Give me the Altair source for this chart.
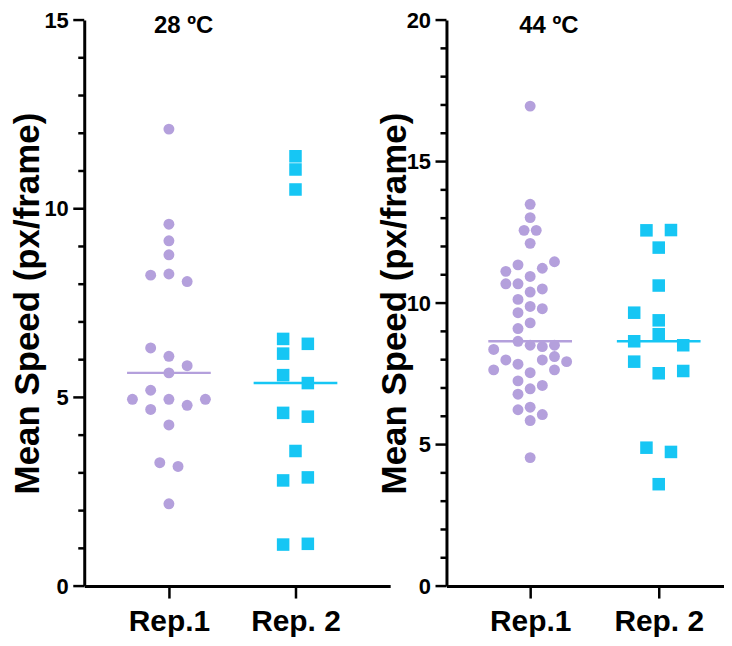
import altair as alt
import pandas as pd

# ---------------- data ----------------
categories = ["Rep.1", "Rep. 2"]
panel_titles = ["28 ºC", "44 ºC"]
y_title = "Mean Speed (px/frame)"

# 28 ºC
t28_rep1 = [12.11, 9.59, 9.15, 8.78, 8.24, 8.27, 8.07, 6.31, 6.09, 5.84, 5.65,
            5.19, 4.95, 4.95, 4.95, 4.68, 4.79, 4.27, 3.27, 3.17, 2.18]
t28_rep1_lane = [0, 0, 0, 0, -2, 0, 2, -2, 0, 2, 0,
                 -2, -4, 0, 4, -2, 2, 0, -1, 1, 0]
t28_rep2 = [11.39, 11.04, 10.51, 6.55, 6.42, 6.16, 5.59, 5.38, 4.59, 4.49,
            3.58, 2.80, 2.88, 1.10, 1.12]
t28_rep2_lane = [0, 0, 0, -1, 1, -1, -1, 1, -1, 1, 0, -1, 1, -1, 1]

# 44 ºC
t44_rep1 = [16.96, 13.49, 13.02, 12.57, 12.57, 12.11, 11.46, 11.35, 11.12, 11.23,
            10.94, 10.68, 10.68, 10.50, 10.39, 10.13, 9.88, 9.80, 9.66, 9.30,
            9.10, 8.65, 8.51, 8.46, 8.51, 8.36, 8.11, 7.99, 7.99, 7.93,
            7.84, 7.64, 7.64, 7.54, 7.25, 7.09, 6.97, 6.78, 6.23, 6.32,
            6.06, 5.85, 4.54]
t44_rep1_lane = [0, 0, 0, -0.5, 0.5, 0, 2, -1, -2, 1,
                 0, -2, -1, 1, 0, -1, 0, 1, -1, 0,
                 -1, -1, 0, 1, 2, -3, 2, -2, 1, 3,
                 -1, -3, 2, 0, -1, 1, 0, -1, -1, 0,
                 1, 0, 0]
t44_rep2 = [12.57, 12.58, 11.96, 10.62, 9.66, 9.39, 8.90, 8.65, 8.51, 7.93,
            7.52, 7.60, 4.89, 4.74, 3.60]
t44_rep2_lane = [-1, 1, 0, 0, -2, 0, 0, -2, 2, -2, 0, 2, -1, 1, 0]

# ---------------- layout / style constants ----------------
PURPLE = "#B4A0DC"
CYAN = "#16C6F4"
FONT = "Liberation Sans"
HEIGHT = 568


def build_df(rep1, lane1, rep2, lane2, lane_px1, lane_px2, px_per_unit):
    rows = []
    for v, ln in zip(rep1, lane1):
        rows.append({"rep": categories[0], "g": 1, "value": v,
                     "xpos": 1 + ln * lane_px1 / px_per_unit})
    for v, ln in zip(rep2, lane2):
        rows.append({"rep": categories[1], "g": 2, "value": v,
                     "xpos": 2 + ln * lane_px2 / px_per_unit})
    return pd.DataFrame(rows)


def panel(df, title, ymax, xdom, width, title_dx, axis_title_x):
    px_per_unit = width / (xdom[1] - xdom[0])
    half = 42 / px_per_unit
    major_vals = list(range(0, ymax + 1, 5))
    minor_vals = [v for v in range(0, ymax + 1) if v % 5 != 0]
    xscale = alt.Scale(domain=xdom, nice=False, zero=False)
    yscale = alt.Scale(domain=[0, ymax], nice=False, zero=True)
    xaxis = alt.Axis(
        values=[1, 2], title=None, grid=False,
        labelExpr=f"datum.value === 1 ? '{categories[0]}' : '{categories[1]}'",
        labelFontSize=30, labelFont=FONT, labelFontWeight="bold",
        labelColor="black", labelPadding=9, labelFlush=False,
        ticks=True, tickSize=12, tickWidth=2.5, tickColor="black",
        domainColor="black", domainWidth=3,
    )
    yaxis = alt.Axis(
        orient="left",
        values=major_vals, grid=False, title=y_title,
        labelFontSize=22, labelFont=FONT, labelFontWeight="bold",
        labelColor="black", labelPadding=16, ticks=False,
        domainColor="black", domainWidth=3,
        titleFontSize=35, titleFont=FONT, titleFontWeight="bold",
        titleColor="black", titleX=axis_title_x, titleY=HEIGHT / 2,
        titleAngle=270, titleAlign="center", titleBaseline="middle",
    )
    color = alt.Color("rep:N", scale=alt.Scale(domain=categories, range=[PURPLE, CYAN]), legend=None)
    base = alt.Chart(df)
    pts = base.mark_point(filled=True, opacity=1, strokeWidth=0).encode(
        x=alt.X("xpos:Q", scale=xscale, axis=xaxis),
        y=alt.Y("value:Q", scale=yscale, axis=yaxis),
        color=color,
        shape=alt.Shape("rep:N", scale=alt.Scale(domain=categories, range=["circle", "square"]), legend=None),
        size=alt.Size("rep:N", scale=alt.Scale(domain=categories, range=[120, 158]), legend=None),
    )
    med = base.transform_aggregate(
        med="median(value)", groupby=["g", "rep"]
    ).transform_calculate(
        x1=f"datum.g - {half}", x2=f"datum.g + {half}"
    ).mark_rule(strokeWidth=2.5).encode(
        x=alt.X("x1:Q", scale=xscale, axis=xaxis),
        x2="x2:Q",
        y=alt.Y("med:Q", scale=yscale, axis=yaxis),
        color=color,
    )
    # y-axis tick marks (major and minor), placed on the axis through the scales
    tick_layers = []
    for vals, length in ((major_vals, 11), (minor_vals, 6)):
        tick_layers.append(
            alt.Chart(pd.DataFrame({"tv": vals})).mark_rule(
                color="black", strokeWidth=2.5, xOffset=-length, x2Offset=0
            ).encode(
                x=alt.XDatum(xdom[0], type="quantitative", scale=xscale, axis=xaxis),
                x2=alt.X2Datum(xdom[0]),
                y=alt.Y("tv:Q", scale=yscale, axis=yaxis),
            )
        )
    return alt.layer(pts, med, *tick_layers).properties(
        width=width, height=HEIGHT,
        title=alt.TitleParams(
            text=title, anchor="start", frame="group", dx=title_dx,
            offset=-41, baseline="middle", fontSize=24, font=FONT,
            fontWeight="bold", color="black",
        ),
    )


df28 = build_df(t28_rep1, t28_rep1_lane, t28_rep2, t28_rep2_lane, 9.15, 12.4, 127.0)
df44 = build_df(t44_rep1, t44_rep1_lane, t44_rep2, t44_rep2_lane, 12.2, 12.3, 129.0)

left = panel(df28, panel_titles[0], 15, [0.331, 2.748], 307, 70, -57)
right = panel(df44, panel_titles[1], 20, [0.349, 2.504], 278, 73, -52)

chart = alt.hconcat(left, right, spacing=-12.5).properties(
    padding={"left": 2.5, "top": 0, "right": 0, "bottom": 0}
).configure(background="white").configure_view(stroke=None)

chart.save("out.html", embed_options={"renderer": "svg", "actions": False})
